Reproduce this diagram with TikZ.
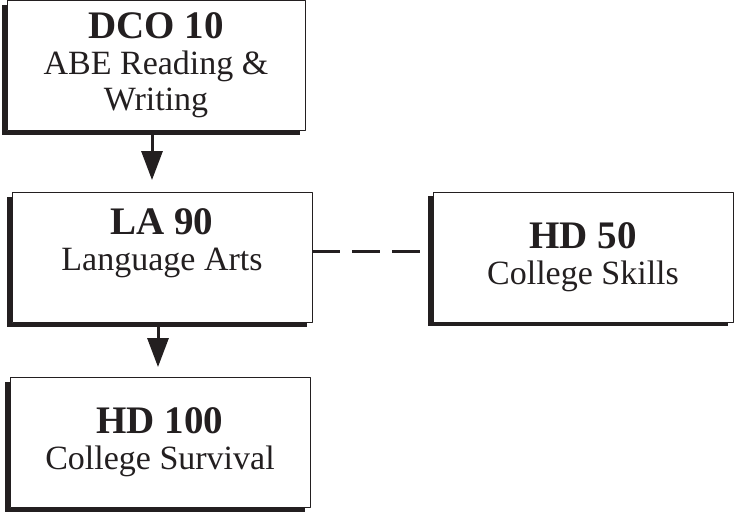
\documentclass[tikz,border=0pt]{standalone}
\usepackage{fontspec}
\setmainfont{Liberation Serif}
\usetikzlibrary{arrows.meta,shadows}
\definecolor{ink}{RGB}{35,31,32}
\newcommand{\ccode}[1]{{\fontsize{39}{36}\selectfont\bfseries #1}}
\tikzset{
  course/.style={draw=ink, line width=0.9pt, fill=white, text=ink,
    minimum width=300pt, minimum height=130pt, inner sep=0pt, align=center,
    font=\fontsize{34}{36}\selectfont,
    drop shadow={shadow xshift=-5pt, shadow yshift=-4pt, fill=ink, opacity=1}},
  flow/.style={->, draw=ink, line width=3pt}
}
\begin{document}
\begin{tikzpicture}[x=1pt,y=-1pt,>={Triangle[length=29pt,width=21pt]}, line join=round]
	\useasboundingbox (0,0) rectangle (734,512);
	% courses
	\node[course, minimum width=298pt] (dco) at (156,65.5) {\ccode{DCO 10}\\ABE Reading \&\\Writing};
	\node[course] (la) at (162,257.5) {\ccode{LA 90}\\Language Arts\\\mbox{}};
	\node[course] (hd50) at (583,257) {\ccode{HD 50}\\College Skills};
	\node[course] (hd100) at (160,442.5) {\ccode{HD 100}\\College Survival};
	% links
	\draw[flow, shorten >=12pt] ([xshift=-4pt]dco.south) -- ([xshift=-4pt]dco.south |- la.north);
	\draw[flow, shorten >=10pt] ([xshift=-4pt]la.south) -- ([xshift=-4pt]la.south |- hd100.north);
	\draw[draw=ink, line width=3pt, dash pattern=on 28pt off 12pt, shorten >=11pt] ([yshift=6pt]la.east) -- ([yshift=6pt]la.east -| hd50.west);
\end{tikzpicture}
\end{document}
